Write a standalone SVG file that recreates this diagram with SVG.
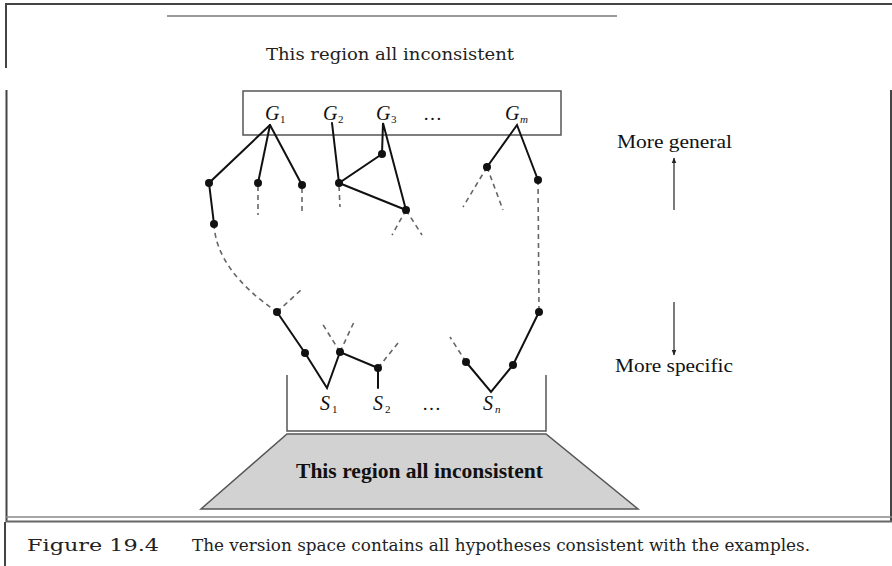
<svg xmlns="http://www.w3.org/2000/svg" width="892" height="566" viewBox="0 0 892 566">
<style>
.frame{stroke:#444;stroke-width:2;fill:none}
.rule{stroke:#777;stroke-width:1.6;fill:none}
.edge{stroke:#111;stroke-width:2;fill:none;stroke-linecap:round}
.dash{stroke:#666;stroke-width:1.6;fill:none;stroke-dasharray:5 4}
.dot{fill:#111}
.lbl{font-family:"Liberation Serif","Times New Roman",serif;font-style:italic;font-size:20px;fill:#111}
.sub{font-family:"Liberation Serif","Times New Roman",serif;font-size:11px;fill:#111}
.side{font-family:"Liberation Serif","Times New Roman",serif;font-size:19px;fill:#111}
.cap{font-family:"DejaVu Serif","Liberation Serif",serif;font-size:16px;fill:#222}
.box{stroke:#555;stroke-width:1.5;fill:#fff}
</style>
<defs>
<marker id="ah" viewBox="0 0 10 10" refX="9" refY="5" markerWidth="6" markerHeight="9" orient="auto" markerUnits="userSpaceOnUse">
<path d="M0,1 L10,5 L0,9 z" fill="#222"/>
</marker>
</defs>
<rect width="892" height="566" fill="#fff"/>

<!-- page frame -->
<g id="frame">
<line class="frame" x1="5" y1="4" x2="892" y2="4"/>
<line class="frame" x1="6" y1="4" x2="6" y2="68"/>
<line class="rule" x1="167" y1="16" x2="617" y2="16"/>
<text class="cap" x="266" y="60" font-size="17.5" textLength="248" lengthAdjust="spacingAndGlyphs">This region all inconsistent</text>
<line class="frame" x1="6.5" y1="90" x2="6.5" y2="522"/>
<line class="frame" x1="891" y1="90" x2="891" y2="522"/>
<line x1="6" y1="517" x2="892" y2="517" stroke="#888" stroke-width="1.5"/>
<line x1="6" y1="521.5" x2="892" y2="521.5" stroke="#666" stroke-width="2"/>
<line class="frame" x1="5" y1="522" x2="5" y2="566"/>
<text class="cap" x="27" y="551" font-size="17" textLength="132" lengthAdjust="spacingAndGlyphs">Figure 19.4</text>
<text class="cap" x="192" y="551" textLength="618" lengthAdjust="spacingAndGlyphs">The version space contains all hypotheses consistent with the examples.</text>
</g>

<!-- G boundary box -->
<g id="G-set">
<rect class="box" x="243" y="91" width="318" height="44"/>
<text class="lbl" x="265" y="120">G</text><text class="sub" x="280" y="123">1</text>
<text class="lbl" x="323" y="120">G</text><text class="sub" x="338" y="123">2</text>
<text class="lbl" x="376" y="120">G</text><text class="sub" x="391" y="123">3</text>
<text class="side" x="423" y="120">…</text>
<text class="lbl" x="505" y="120">G</text><text class="sub" x="520" y="123" font-style="italic" font-size="12">m</text>
</g>

<!-- S boundary box -->
<g id="S-set">
<polyline points="287,375 287,431 546,431 546,375" fill="none" stroke="#555" stroke-width="1.5"/>
<text class="lbl" x="320" y="410">S</text><text class="sub" x="332" y="413">1</text>
<text class="lbl" x="373" y="410">S</text><text class="sub" x="385" y="413">2</text>
<text class="side" x="422" y="410">…</text>
<text class="lbl" x="483" y="410">S</text><text class="sub" x="495" y="413" font-style="italic" font-size="12">n</text>
</g>

<!-- inconsistent region -->
<g id="inconsistent-region">
<polygon points="287,434 546,434 638,509 201,509" fill="#d2d2d2" stroke="#555" stroke-width="1.5"/>
<text x="296" y="478" font-family="Liberation Serif, Times New Roman, serif" font-weight="bold" font-size="20" textLength="247" lengthAdjust="spacingAndGlyphs" fill="#111">This region all inconsistent</text>
</g>

<!-- direction labels -->
<g id="more-general">
<text class="side" x="617" y="148" textLength="115" lengthAdjust="spacingAndGlyphs">More general</text>
</g>
<g id="more-specific">
<text class="side" x="615" y="372" textLength="118" lengthAdjust="spacingAndGlyphs">More specific</text>
</g>

<!-- connectors -->
<g id="connectors">
<line x1="674" y1="210" x2="674" y2="158" stroke="#333" stroke-width="1.3" marker-end="url(#ah)"/>
<line x1="674" y1="302" x2="674" y2="355" stroke="#333" stroke-width="1.3" marker-end="url(#ah)"/>

<!-- solid edges -->
<path class="edge" d="M270,125 L209,183 L214,224"/>
<path class="edge" d="M270,125 L258,183"/>
<path class="edge" d="M270,125 L302,185"/>
<path class="edge" d="M332,123 L339,183 L382,154 L383,123 L406,210 L339,183"/>
<path class="edge" d="M487,167 L517,125 L538,180"/>
<path class="edge" d="M277,312 L305,353 L327,388 L340,352 L378,368 L378,388"/>
<path class="edge" d="M466,362 L491,392 L513,365 L539,312"/>

<!-- dashed edges -->
<path class="dash" d="M258,186 L258,215"/>
<path class="dash" d="M302,188 L302,215"/>
<path class="dash" d="M339,186 L340,207"/>
<path class="dash" d="M406,210 L392,235 M406,210 L422,235"/>
<path class="dash" d="M487,167 L463,207 M487,167 L503,210"/>
<path class="dash" d="M214,224 Q216,270 277,312"/>
<path class="dash" d="M277,312 L302,289"/>
<path class="dash" d="M538,180 L539,312"/>
<path class="dash" d="M340,352 L322,323 M340,352 L354,322"/>
<path class="dash" d="M378,368 L398,343"/>
<path class="dash" d="M466,362 L450,337"/>

<!-- nodes -->
<circle class="dot" cx="209" cy="183" r="4"/>
<circle class="dot" cx="258" cy="183" r="4"/>
<circle class="dot" cx="302" cy="185" r="4"/>
<circle class="dot" cx="214" cy="224" r="4"/>
<circle class="dot" cx="339" cy="183" r="4"/>
<circle class="dot" cx="382" cy="154" r="4"/>
<circle class="dot" cx="406" cy="210" r="4"/>
<circle class="dot" cx="487" cy="167" r="4"/>
<circle class="dot" cx="538" cy="180" r="4"/>
<circle class="dot" cx="277" cy="312" r="4"/>
<circle class="dot" cx="305" cy="353" r="4"/>
<circle class="dot" cx="340" cy="352" r="4"/>
<circle class="dot" cx="378" cy="368" r="4"/>
<circle class="dot" cx="466" cy="362" r="4"/>
<circle class="dot" cx="513" cy="365" r="4"/>
<circle class="dot" cx="539" cy="312" r="4"/>
</g>
</svg>
